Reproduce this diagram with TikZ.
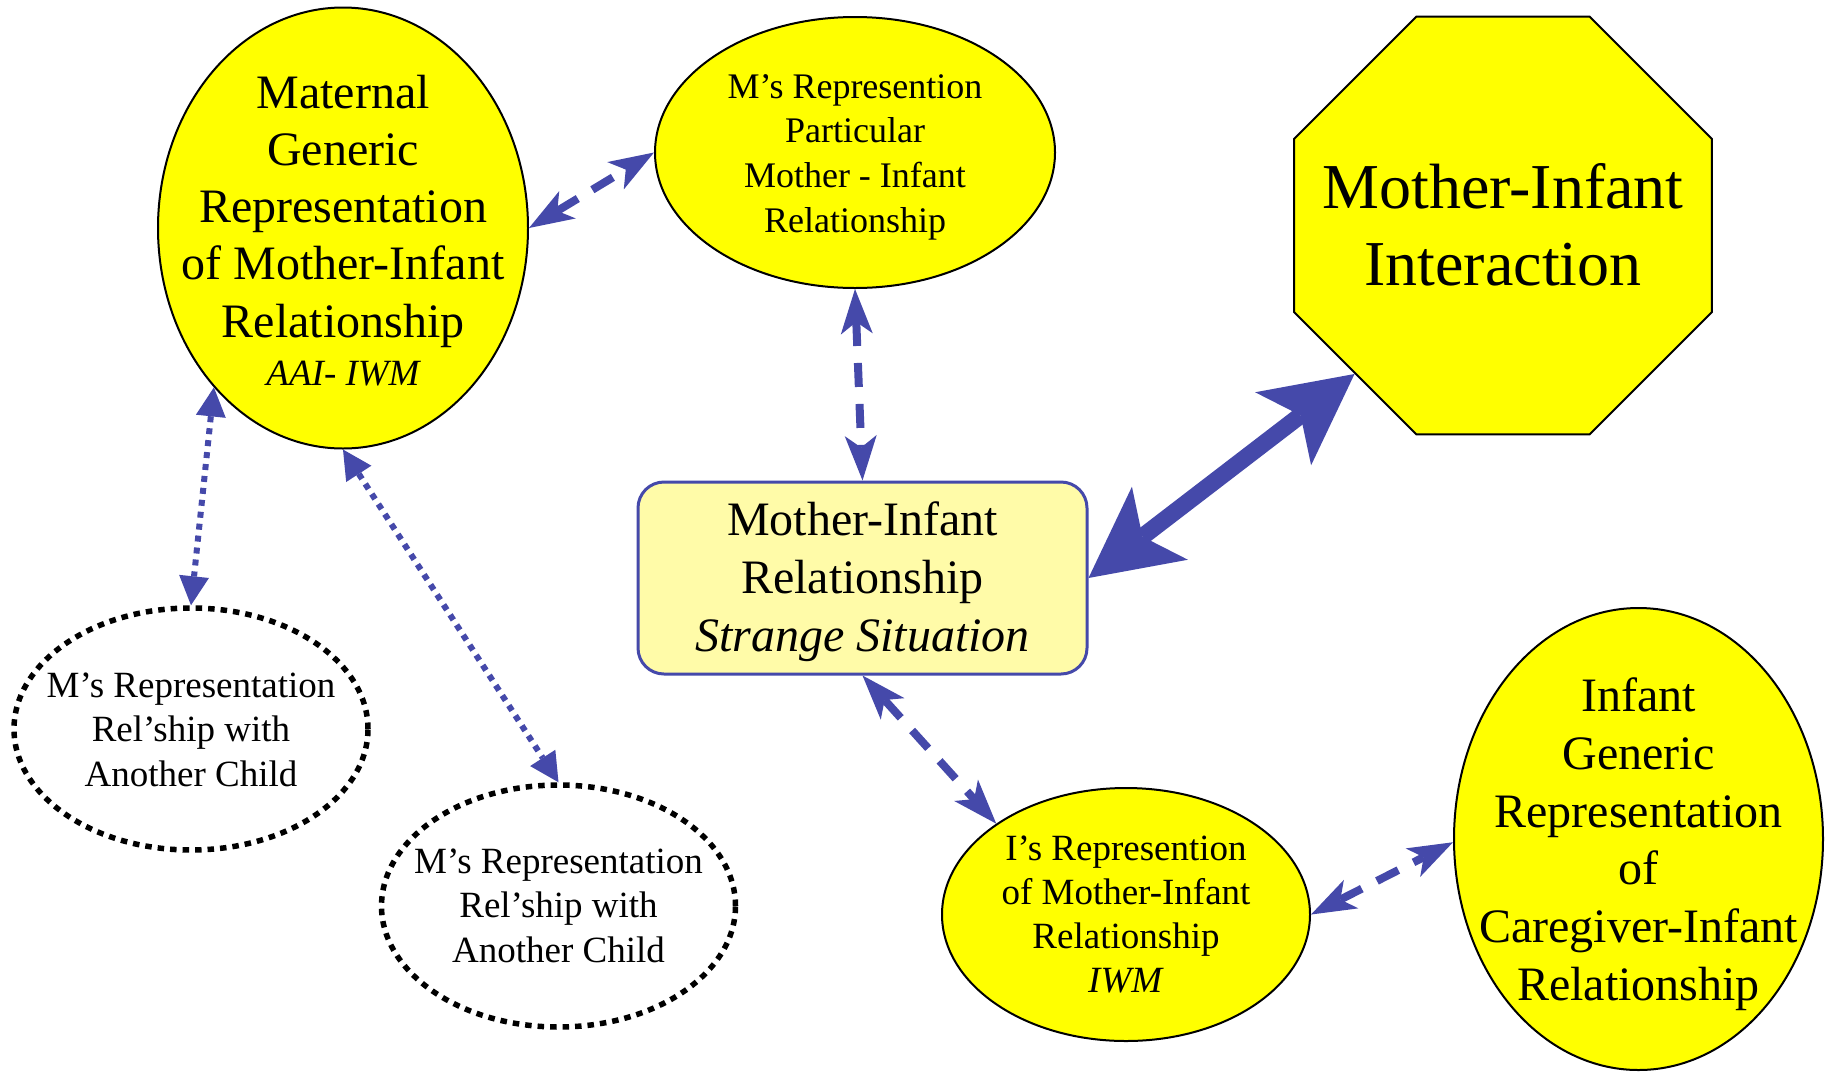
\documentclass[tikz,border=0pt]{standalone}
\usepackage{fontspec}
\setmainfont{Liberation Serif}
\usetikzlibrary{arrows.meta,shapes.geometric}

\definecolor{linkblue}{RGB}{69,73,170}
\definecolor{nodeyellow}{RGB}{255,255,0}
\definecolor{boxyellow}{RGB}{255,251,168}

% Centred stack of lines whose first baseline sits #1 above the node centre;
% the stack takes no room, so the shape keeps its minimum size.
\newcommand{\nodelines}[2]{\makebox[0pt]{\raisebox{#1}[0pt][0pt]{\begin{tabular}[t]{@{}c@{}}#2\end{tabular}}}}

\tikzset{
  bigfont/.style={font=\fontsize{48}{57.3}\selectfont},
  midfont/.style={font=\fontsize{37}{44.5}\selectfont},
  yellownode/.style={ellipse, draw=black, line width=2pt, fill=nodeyellow, inner sep=0pt},
  dotnode/.style={ellipse, draw=black, line width=5.5pt, dash pattern=on 6.5pt off 6pt, inner sep=0pt, midfont},
  octnode/.style={regular polygon, regular polygon sides=8, draw=black, line width=2pt, fill=nodeyellow, inner sep=0pt},
  relbox/.style={rectangle, rounded corners=26pt, draw=linkblue, line width=3pt, fill=boxyellow, inner sep=0pt},
  dasharrow/.style={draw=linkblue, line width=8pt, dash pattern=on 24pt off 17pt,
    {Stealth[length=45pt,width=32pt,inset=12pt,line width=0pt]}-{Stealth[length=45pt,width=32pt,inset=12pt,line width=0pt]}},
  dotarrow/.style={draw=linkblue, line width=6pt, dash pattern=on 6pt off 6pt,
    {Triangle[length=29pt,width=30pt,line width=0pt]}-{Triangle[length=29pt,width=30pt,line width=0pt]}},
  heavyarrow/.style={draw=linkblue, line width=17pt,
    {Stealth[length=90pt,width=92pt,inset=22pt,line width=0pt]}-{Stealth[length=90pt,width=92pt,inset=22pt,line width=0pt]}},
}

\begin{document}
\begin{tikzpicture}[x=1pt, y=-1pt]
  \fill[white] (0,0) rectangle (1828,1072);
  \useasboundingbox (0,0) rectangle (1828,1072);

  % maternal generic representation
  \node[yellownode, bigfont, minimum width=370pt, minimum height=441pt] (mat) at (343,228)
    {\nodelines{120pt}{Maternal\\Generic\\Representation\\of Mother-Infant\\Relationship\\[-9.3pt]
      {\fontsize{37}{44}\selectfont\itshape AAI- IWM}}};

  % particular representation
  \node[yellownode, font=\fontsize{36}{44.7}\selectfont, minimum width=400pt, minimum height=271pt] (mrep) at (855,152.5)
    {\nodelines{54.5pt}{M’s Represention\\Particular\\Mother - Infant\\Relationship}};

  % interaction
  \node[octnode, font=\fontsize{64}{77}\selectfont, minimum size=452.4pt] (oct) at (1503,225.5)
    {\nodelines{17.5pt}{Mother-Infant\\Interaction}};

  % relationship box
  \node[relbox, font=\fontsize{48}{58.3}\selectfont, minimum width=449pt, minimum height=192pt] (rel) at (862.5,578)
    {\nodelines{43pt}{Mother-Infant\\Relationship\\\textit{Strange Situation}}};

  % other-child representations
  \node[dotnode, minimum width=354pt, minimum height=242pt] (oth1) at (191,729)
    {\nodelines{32pt}{M’s Representation\\Rel’ship with\\Another Child}};
  \node[dotnode, minimum width=354pt, minimum height=242pt] (oth2) at (558.5,906)
    {\nodelines{33pt}{M’s Representation\\Rel’ship with\\Another Child}};

  % infant's representations
  \node[yellownode, font=\fontsize{37}{44}\selectfont, minimum width=368pt, minimum height=253pt] (irep) at (1126,914.5)
    {\nodelines{54.5pt}{I’s Represention\\of Mother-Infant\\Relationship\\\textit{IWM}}};
  \node[yellownode, font=\fontsize{48}{57.7}\selectfont, minimum width=369pt, minimum height=462pt] (igen) at (1638.5,839)
    {\nodelines{127.4pt}{Infant\\Generic\\Representation\\of\\Caregiver-Infant\\Relationship}};

  % connectors
  \draw[dasharrow] (mat.east) -- (mrep.west);
  \draw[dasharrow] (mrep.south) -- (rel.north);
  \draw[heavyarrow] (rel.east) -- (oct.225);
  \draw[dasharrow] (rel.south) -- (irep.145);
  \draw[dasharrow] (irep.east) -- (igen.181);
  \draw[dotarrow] (mat.231) -- (oth1.north);
  \draw[dotarrow] (mat.south) -- (oth2.north);
\end{tikzpicture}
\end{document}
